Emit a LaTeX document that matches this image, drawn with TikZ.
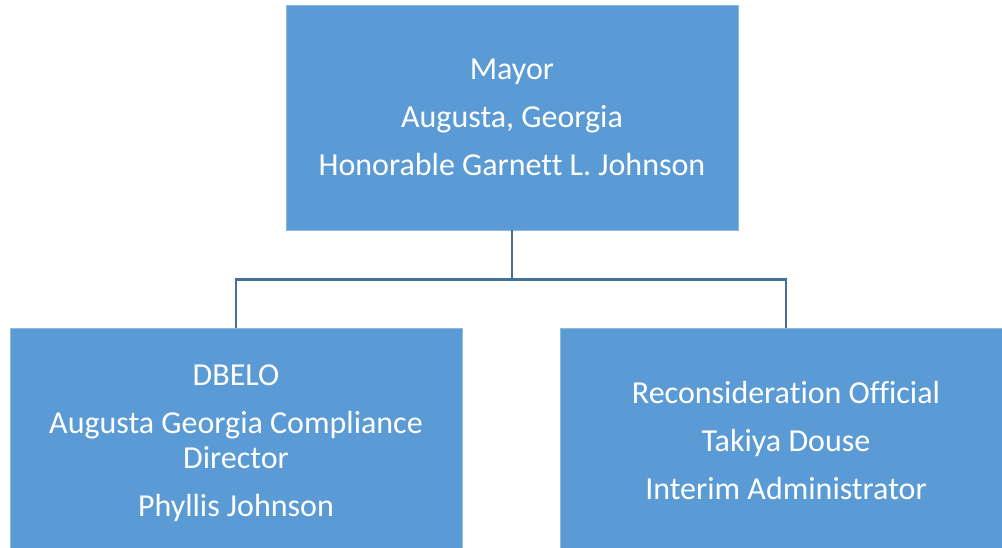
\documentclass[tikz,border=0pt]{standalone}
\usepackage{fontspec}
\setmainfont{Carlito}[Ligatures=NoCommon]
\definecolor{boxblue}{HTML}{5B9BD5}
\definecolor{lineblue}{HTML}{41719C}
\tikzset{
  orgbox/.style={fill=boxblue, draw=boxblue!70!white, line width=0.8pt, text=white,
    minimum width=452, minimum height=225, align=center, inner sep=0pt,
    font=\fontsize{32}{35}\selectfont},
  conn/.style={draw=lineblue, line width=2.8pt}
}
\begin{document}
\begin{tikzpicture}[x=1pt,y=-1pt]
\useasboundingbox (0,0) rectangle (1002,548);
\node[orgbox] (mayor) at (512,117.5)
  {Mayor\\[13pt]Augusta, Georgia\\[13pt]Honorable Garnett L. Johnson};
\node[orgbox, minimum height=231] (dbelo) at (236,443.5)
  {DBELO\\[13pt]Augusta Georgia Compliance\\Director\\[13pt]Phyllis Johnson};
\node[orgbox] (recon) at (786,440.5)
  {Reconsideration Official\\[13pt]Takiya Douse\\[13pt]Interim Administrator};

\draw[conn] (mayor.south) -- ++(0,49) coordinate (fork) -| (dbelo.north);
\draw[conn] (fork) -| (recon.north);
\end{tikzpicture}
\end{document}
